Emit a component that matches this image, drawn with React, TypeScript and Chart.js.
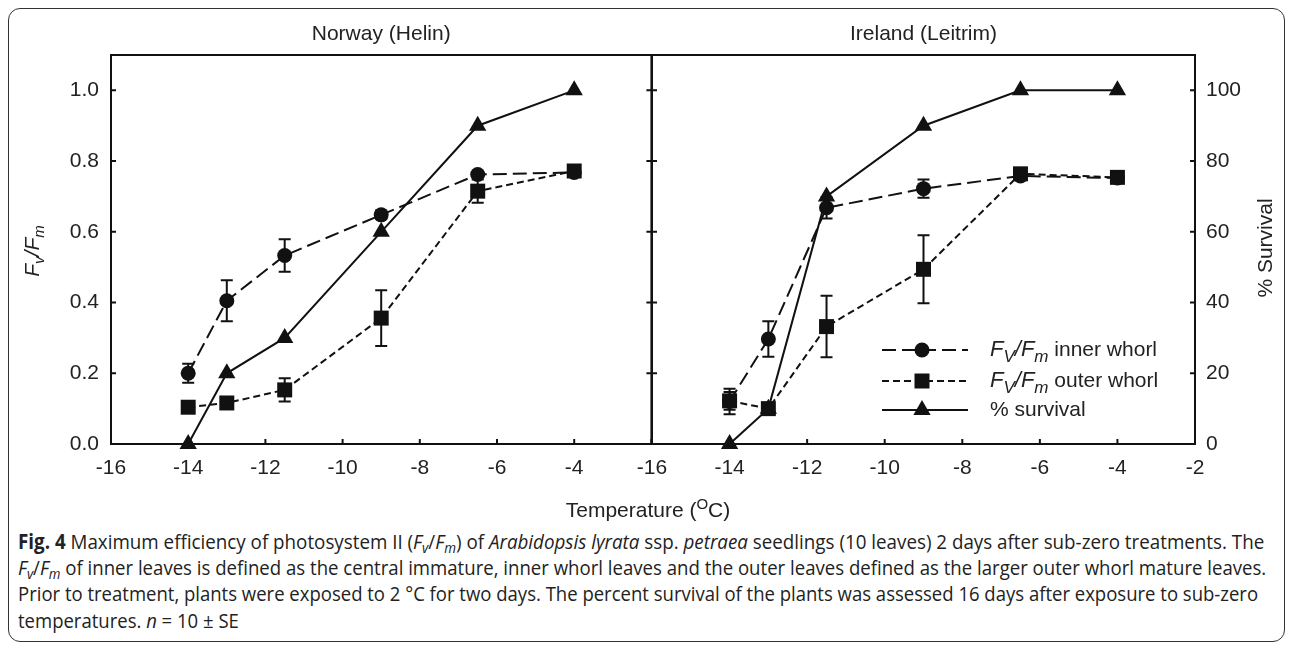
import React, { useEffect, useLayoutEffect, useRef, useState } from 'react';
import { Chart, registerables } from 'chart.js';

Chart.register(...registerables);

// ---------- data ----------
const temps = [-14, -13, -11.5, -9, -6.5, -4];
const xTicks = [-16, -14, -12, -10, -8, -6, -4, -2];
const yTicks = [0, 0.2, 0.4, 0.6, 0.8, 1.0];
const survivalTicks = [0, 20, 40, 60, 80, 100];

const norwayInner = [0.2, 0.405, 0.533, 0.648, 0.762, 0.768];
const norwayInnerErr = [0.027, 0.058, 0.046, 0.012, 0, 0];
const norwayOuter = [0.104, 0.116, 0.153, 0.356, 0.715, 0.772];
const norwayOuterErr = [0, 0, 0.033, 0.079, 0.033, 0];
const norwaySurvival = [0, 20, 30, 60, 90, 100];

const irelandInner = [0.12, 0.297, 0.668, 0.722, 0.758, 0.752];
const irelandInnerErr = [0.036, 0.05, 0.03, 0.026, 0, 0];
const irelandOuter = [0.122, 0.1, 0.332, 0.494, 0.764, 0.754];
const irelandOuterErr = [0.025, 0, 0.087, 0.096, 0, 0];
const irelandSurvival = [0, 10, 70, 90, 100, 100];

const panelTitles = ['Norway (Helin)', 'Ireland (Leitrim)'];
const legendLabels = [' inner whorl', ' outer whorl', '% survival'];

// ---------- style ----------
const INK = '#111';
const TXT = '#222';
const FONT = '"Liberation Sans", Arial, Helvetica, sans-serif';
const FS = 21;

type Part = { text: string; font: string; dy?: number };

function drawRich(ctx: CanvasRenderingContext2D, parts: Part[], x: number, y: number, center: boolean) {
  let total = 0;
  for (const p of parts) {
    ctx.font = p.font;
    total += ctx.measureText(p.text).width;
  }
  let cx = center ? x - total / 2 : x;
  ctx.textAlign = 'left';
  ctx.textBaseline = 'alphabetic';
  for (const p of parts) {
    ctx.font = p.font;
    ctx.fillText(p.text, cx, y + (p.dy || 0));
    cx += ctx.measureText(p.text).width;
  }
}

function fvfm(sub: string, big: number, small: number, dy: number): Part[] {
  return [
    { text: 'F', font: `italic ${big}px ${FONT}` },
    { text: sub, font: `italic ${small}px ${FONT}`, dy },
    { text: '/F', font: `italic ${big}px ${FONT}` },
    { text: 'm', font: `italic ${small}px ${FONT}`, dy },
  ];
}

type Panel = {
  side: 'left' | 'right';
  title: string;
  inner: number[];
  innerErr: number[];
  outer: number[];
  outerErr: number[];
  survival: number[];
};

function drawMarker(ctx: CanvasRenderingContext2D, kind: string, x: number, y: number) {
  ctx.beginPath();
  if (kind === 'circle') {
    ctx.arc(x, y, 7.5, 0, Math.PI * 2);
  } else if (kind === 'rect') {
    ctx.rect(x - 7.5, y - 7.5, 15, 15);
  } else {
    const r = 10;
    ctx.moveTo(x, y - r);
    ctx.lineTo(x + r * Math.cos(Math.PI / 6), y + r * 0.5);
    ctx.lineTo(x - r * Math.cos(Math.PI / 6), y + r * 0.5);
    ctx.closePath();
  }
  ctx.fill();
}

function makePlugin(panel: Panel) {
  const isLeft = panel.side === 'left';
  return {
    id: 'frame_' + panel.side,
    beforeDatasetsDraw(chart: any) {
      const ctx: CanvasRenderingContext2D = chart.ctx;
      const xs = chart.scales.x;
      const ys = chart.scales.y;
      ctx.save();
      ctx.strokeStyle = INK;
      ctx.lineWidth = 2;
      const series: [number[], number[]][] = [
        [panel.inner, panel.innerErr],
        [panel.outer, panel.outerErr],
      ];
      for (const [vals, errs] of series) {
        vals.forEach((v, i) => {
          const e = errs[i];
          if (!e) return;
          const x = xs.getPixelForValue(temps[i]);
          const y1 = ys.getPixelForValue(v + e);
          const y2 = ys.getPixelForValue(v - e);
          ctx.beginPath();
          ctx.moveTo(x, y1);
          ctx.lineTo(x, y2);
          ctx.moveTo(x - 6, y1);
          ctx.lineTo(x + 6, y1);
          ctx.moveTo(x - 6, y2);
          ctx.lineTo(x + 6, y2);
          ctx.stroke();
        });
      }
      ctx.restore();
    },
    afterDraw(chart: any) {
      const ctx: CanvasRenderingContext2D = chart.ctx;
      const a = chart.chartArea;
      const xs = chart.scales.x;
      const ys = chart.scales.y;
      ctx.save();
      ctx.strokeStyle = INK;
      ctx.lineWidth = 2;
      ctx.strokeRect(a.left, a.top, a.right - a.left, a.bottom - a.top);
      const tl = 5;
      ctx.beginPath();
      for (const v of xTicks) {
        const x = xs.getPixelForValue(v);
        ctx.moveTo(x, a.bottom);
        ctx.lineTo(x, a.bottom - tl);
      }
      for (const v of yTicks) {
        const y = ys.getPixelForValue(v);
        ctx.moveTo(a.left, y);
        ctx.lineTo(a.left + tl, y);
        ctx.moveTo(a.right, y);
        ctx.lineTo(a.right - tl, y);
      }
      ctx.stroke();

      // panel title
      ctx.fillStyle = TXT;
      ctx.font = `${FS}px ${FONT}`;
      ctx.textAlign = 'center';
      ctx.textBaseline = 'alphabetic';
      ctx.fillText(panel.title, (a.left + a.right) / 2, 40);

      if (isLeft) {
        ctx.save();
        ctx.translate(39, 251);
        ctx.rotate(-Math.PI / 2);
        drawRich(ctx, fvfm('v', FS, 15, 5), 0, 0, true);
        ctx.restore();
      } else {
        ctx.save();
        ctx.translate(a.right + 77, 248);
        ctx.rotate(-Math.PI / 2);
        ctx.font = `${FS}px ${FONT}`;
        ctx.textAlign = 'center';
        ctx.fillText('% Survival', 0, 0);
        ctx.restore();

        // legend
        const rows = [
          { y: 350, dash: [14, 6], marker: 'circle', end: 316 },
          { y: 381, dash: [7, 4], marker: 'rect', end: 316 },
          { y: 410, dash: [], marker: 'triangle', end: 316 },
        ];
        rows.forEach((r, i) => {
          const x0 = a.left + 230;
          const x1 = a.left + r.end;
          const xm = a.left + 270;
          ctx.strokeStyle = INK;
          ctx.lineWidth = 2;
          ctx.setLineDash(r.dash);
          ctx.beginPath();
          ctx.moveTo(x0, r.y);
          ctx.lineTo(x1, r.y);
          ctx.stroke();
          ctx.setLineDash([]);
          ctx.fillStyle = INK;
          drawMarker(ctx, r.marker, xm, r.y);
          ctx.fillStyle = TXT;
          const tx = a.left + 338;
          const base = r.y + 6;
          if (i < 2) {
            drawRich(
              ctx,
              [...fvfm('V', 22, 17, 6), { text: legendLabels[i], font: `${FS}px ${FONT}` }],
              tx,
              base,
              false,
            );
          } else {
            drawRich(ctx, [{ text: legendLabels[i], font: `${FS}px ${FONT}` }], tx, base, false);
          }
        });
      }
      ctx.restore();
    },
  };
}

function buildChart(canvas: HTMLCanvasElement, panel: Panel) {
  const isLeft = panel.side === 'left';
  const tickFont = { family: FONT, size: FS };
  const pts = (vals: number[]) => temps.map((t, i) => ({ x: t, y: vals[i] }));
  return new Chart(canvas, {
    type: 'line',
    data: {
      datasets: [
        {
          label: 'inner',
          data: pts(panel.inner),
          yAxisID: 'y',
          borderColor: INK,
          backgroundColor: INK,
          borderWidth: 2,
          borderDash: [14, 6],
          pointStyle: 'circle',
          pointRadius: 7.5,
          pointBorderWidth: 0,
          pointBackgroundColor: INK,
          tension: 0,
        },
        {
          label: 'outer',
          data: pts(panel.outer),
          yAxisID: 'y',
          borderColor: INK,
          backgroundColor: INK,
          borderWidth: 2,
          borderDash: [7, 4],
          pointStyle: 'rect',
          pointRadius: 10.6,
          pointBorderWidth: 0,
          pointBackgroundColor: INK,
          tension: 0,
        },
        {
          label: 'survival',
          data: pts(panel.survival),
          yAxisID: 'y1',
          borderColor: INK,
          backgroundColor: INK,
          borderWidth: 2,
          pointStyle: 'triangle',
          pointRadius: 10,
          pointBorderWidth: 0,
          pointBackgroundColor: INK,
          tension: 0,
        },
      ],
    } as any,
    options: {
      animation: false,
      responsive: false,
      maintainAspectRatio: false,
      clip: false as any,
      layout: { padding: { top: 55, left: isLeft ? 0 : 52, right: isLeft ? 10 : 0, bottom: 0 } },
      plugins: { legend: { display: false }, tooltip: { enabled: false }, title: { display: false } },
      scales: {
        x: {
          type: 'linear',
          min: -16,
          max: -2,
          afterBuildTicks: (s: any) => {
            s.ticks = xTicks.map((v) => ({ value: v }));
          },
          afterFit: (s: any) => {
            s.height = 56;
            s.paddingLeft = 0;
            s.paddingRight = 0;
          },
          ticks: {
            font: tickFont,
            color: TXT,
            padding: 12,
            maxRotation: 0,
            autoSkip: false,
            callback: (v: any) => (isLeft && Number(v) === -2 ? '' : String(v)),
          },
          grid: { display: false, drawTicks: false },
          border: { display: false },
        },
        y: {
          display: isLeft,
          position: 'left',
          min: 0,
          max: 1.1,
          afterBuildTicks: (s: any) => {
            s.ticks = yTicks.map((v) => ({ value: v }));
          },
          afterFit: (s: any) => {
            s.width = isLeft ? 111 : 0;
            s.paddingTop = 0;
            s.paddingBottom = 0;
          },
          ticks: {
            font: tickFont,
            color: TXT,
            padding: 12,
            callback: (v: any) => Number(v).toFixed(1),
          },
          grid: { display: false, drawTicks: false },
          border: { display: false },
        },
        y1: {
          display: !isLeft,
          position: 'right',
          min: 0,
          max: 110,
          afterBuildTicks: (s: any) => {
            s.ticks = survivalTicks.map((v) => ({ value: v }));
          },
          afterFit: (s: any) => {
            s.width = isLeft ? 0 : 97;
            s.paddingTop = 0;
            s.paddingBottom = 0;
          },
          ticks: {
            font: tickFont,
            color: TXT,
            padding: 11,
            callback: (v: any) => String(v),
          },
          grid: { display: false, drawTicks: false },
          border: { display: false },
        },
      },
    } as any,
    plugins: [makePlugin(panel)],
  });
}

const panels: Panel[] = [
  {
    side: 'left',
    title: panelTitles[0],
    inner: norwayInner,
    innerErr: norwayInnerErr,
    outer: norwayOuter,
    outerErr: norwayOuterErr,
    survival: norwaySurvival,
  },
  {
    side: 'right',
    title: panelTitles[1],
    inner: irelandInner,
    innerErr: irelandInnerErr,
    outer: irelandOuter,
    outerErr: irelandOuterErr,
    survival: irelandSurvival,
  },
];

const Sub = ({ children }: { children: React.ReactNode }) => (
  <span style={{ fontSize: '0.72em', position: 'relative', top: '0.28em' }}>{children}</span>
);
const FvFm = () => (
  <span>
    <i>F</i>
    <Sub>
      <i>v</i>
    </Sub>
    /<i>F</i>
    <Sub>
      <i>m</i>
    </Sub>
  </span>
);

const captionTargets = [1246, 1248, 1240];
const captionTops = [528, 554, 580, 607];

export default function App() {
  const leftRef = useRef<HTMLCanvasElement>(null);
  const rightRef = useRef<HTMLCanvasElement>(null);
  const lineRefs = useRef<(HTMLSpanElement | null)[]>([]);
  const [scales, setScales] = useState<number[]>([1, 1, 1, 1]);

  useEffect(() => {
    const c1 = buildChart(leftRef.current!, panels[0]);
    const c2 = buildChart(rightRef.current!, panels[1]);
    return () => {
      c1.destroy();
      c2.destroy();
    };
  }, []);

  useLayoutEffect(() => {
    const s = captionTargets.map((t, i) => {
      const el = lineRefs.current[i];
      const w = el ? el.offsetWidth : t;
      return w > 0 ? t / w : 1;
    });
    s.push(s[2]);
    setScales(s);
  }, []);

  const capStyle = (i: number): React.CSSProperties => ({
    position: 'absolute',
    left: 18,
    top: captionTops[i],
    height: 26,
    lineHeight: '26px',
    fontSize: 20.5,
    fontFamily: '"Open Sans", "Noto Sans", sans-serif',
    color: '#222',
    whiteSpace: 'nowrap',
    transform: `scaleX(${scales[i]})`,
    transformOrigin: 'left center',
    display: 'inline-block',
  });

  const lines: React.ReactNode[] = [
    <>
      <b>Fig. 4</b> Maximum efficiency of photosystem II (<FvFm />) of <i>Arabidopsis lyrata</i> ssp. <i>petraea</i>{' '}
      seedlings (10 leaves) 2 days after sub-zero treatments. The
    </>,
    <>
      <FvFm /> of inner leaves is defined as the central immature, inner whorl leaves and the outer leaves defined as the
      larger outer whorl mature leaves.
    </>,
    <>
      Prior to treatment, plants were exposed to 2 °C for two days. The percent survival of the plants was assessed 16 days
      after exposure to sub-zero
    </>,
    <>
      temperatures. <i>n</i> = 10 ± SE
    </>,
  ];

  return (
    <div style={{ position: 'absolute', left: 0, top: 0, width: 1292, height: 645, background: '#fff', overflow: 'hidden' }}>
      <div
        style={{
          position: 'absolute',
          left: 8,
          top: 8,
          width: 1277,
          height: 634,
          border: '1.5px solid #333',
          borderRadius: 12,
          boxSizing: 'border-box',
        }}
      />
      <canvas ref={leftRef} width={662} height={500} style={{ position: 'absolute', left: 0, top: 0 }} />
      <canvas ref={rightRef} width={692} height={500} style={{ position: 'absolute', left: 600, top: 0 }} />
      <div
        style={{
          position: 'absolute',
          left: 648,
          top: 497,
          transform: 'translateX(-50%)',
          fontFamily: FONT,
          fontSize: FS,
          lineHeight: '26px',
          color: TXT,
          whiteSpace: 'nowrap',
        }}
      >
        Temperature (<span style={{ fontSize: 15, position: 'relative', top: -8 }}>O</span>C)
      </div>
      {lines.map((ln, i) => (
        <span key={i} ref={(el) => (lineRefs.current[i] = el)} style={capStyle(i)}>
          {ln}
        </span>
      ))}
    </div>
  );
}
